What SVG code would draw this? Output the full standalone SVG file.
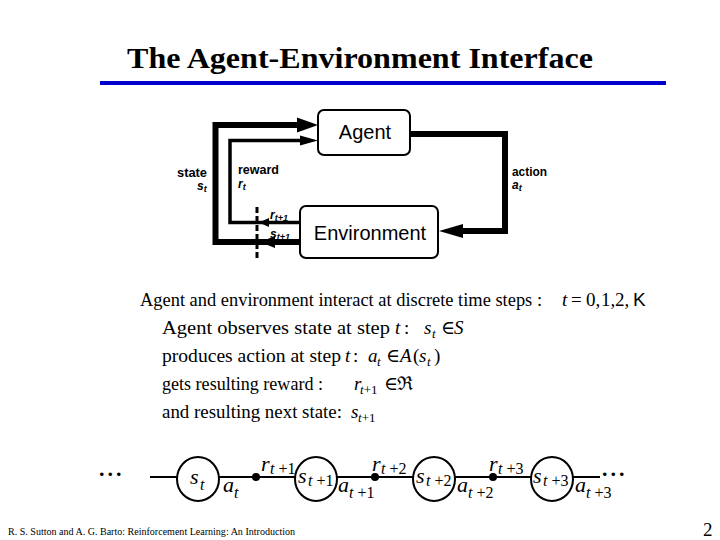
<svg xmlns="http://www.w3.org/2000/svg" width="720" height="540" viewBox="0 0 720 540">
<style>
.title{font-family:"Liberation Serif","Times New Roman",serif;font-weight:bold;font-size:30px;fill:#000}
.body{font-family:"Liberation Serif","DejaVu Serif",serif;font-size:19px;fill:#000}
.it{font-style:italic}
.sub{font-size:13px}
.sans{font-family:"Liberation Sans",Arial,sans-serif}
.box{fill:#fff;stroke:#000;stroke-width:2}
.boxtxt{font-family:"Liberation Sans",Arial,sans-serif;font-size:20px;fill:#000;text-anchor:middle}
.lbl{font-family:"Liberation Sans",Arial,sans-serif;font-weight:bold;font-size:13px;fill:#000}
.lvar{font-family:"Liberation Sans",Arial,sans-serif;font-weight:bold;font-style:italic;font-size:12px;fill:#000}
.lsub{font-size:9px}
.wire{fill:none;stroke:#000;stroke-linejoin:miter;stroke-linecap:butt}
.head{fill:#000;stroke:none}
.chain{font-family:"Liberation Serif","Times New Roman",serif;font-size:22px;fill:#000}
.csub{font-size:16px}
.foot{font-family:"Liberation Serif","Times New Roman",serif;font-size:11px;fill:#000}
.pnum{font-family:"Liberation Serif","Times New Roman",serif;font-size:19px;fill:#000}
</style>
<rect width="720" height="540" fill="#fff"/>
<text class="title" x="360" y="68" text-anchor="middle" textLength="466" lengthAdjust="spacingAndGlyphs">The Agent-Environment Interface</text>
<rect x="100" y="81" width="566" height="4" fill="#0000cc"/>

<g id="connectors">
  <path class="wire" stroke-width="6" d="M300,242 H215.5 V125 H300"/>
  <path class="wire" stroke-width="3.5" d="M300,222.5 H230 V140.5 H302"/>
  <path class="wire" stroke-width="6" d="M410,134 H505 V231 H460"/>
  <polygon class="head" points="318,125 297,117.5 297,132.5"/>
  <polygon class="head" points="318,140.5 300,135.5 300,145.5"/>
  <polygon class="head" points="439,231 463,224 463,238"/>
  <polygon class="head" points="259,222.5 269,218 269,227"/>
  <polygon class="head" points="260,242 275,236 275,248"/>
  <line x1="257" y1="207" x2="257" y2="259" stroke="#000" stroke-width="3" stroke-dasharray="6 3"/>
</g>

<g id="agent">
  <rect class="box" x="318" y="110" width="92" height="45" rx="6"/>
  <text class="boxtxt" x="365" y="139">Agent</text>
</g>
<g id="environment">
  <rect class="box" x="300" y="206" width="138" height="52" rx="6"/>
  <text class="boxtxt" x="370" y="240">Environment</text>
</g>

<g id="labels">
  <text class="lbl" x="177" y="177" textLength="30" lengthAdjust="spacingAndGlyphs">state</text>
  <text class="lvar" x="197" y="190">s<tspan class="lsub" dy="2">t</tspan></text>
  <text class="lbl" x="238" y="174" textLength="41" lengthAdjust="spacingAndGlyphs">reward</text>
  <text class="lvar" x="238" y="188">r<tspan class="lsub" dy="2">t</tspan></text>
  <text class="lbl" x="512" y="176" textLength="35" lengthAdjust="spacingAndGlyphs">action</text>
  <text class="lvar" x="512" y="189">a<tspan class="lsub" dy="2">t</tspan></text>
  <text class="lvar" x="270" y="219">r<tspan class="lsub" dy="2">t+1</tspan></text>
  <text class="lvar" x="270" y="238">s<tspan class="lsub" dy="2">t+1</tspan></text>
</g>

<g id="text-body">
  <text class="body" x="140" y="306" textLength="402" lengthAdjust="spacingAndGlyphs">Agent and environment interact at discrete time steps :</text>
  <text class="body it" x="562" y="306">t</text>
  <text class="body" x="571" y="306">=</text>
  <text class="body" x="586" y="306">0,</text>
  <text class="body" x="601" y="306">1,</text>
  <text class="body" x="615" y="306">2,</text>
  <text class="body sans" x="633" y="306">K</text>

  <text class="body" x="162" y="334" textLength="228" lengthAdjust="spacingAndGlyphs">Agent observes state at step</text>
  <text class="body it" x="395" y="334">t</text>
  <text class="body" x="404" y="334">:</text>
  <text class="body it" x="424" y="334">s</text>
  <text class="body it sub" x="432" y="338">t</text>
  <text class="body" x="441" y="334">∈</text>
  <text class="body it" x="454" y="334">S</text>

  <text class="body" x="162" y="362" textLength="179" lengthAdjust="spacingAndGlyphs">produces action at step</text>
  <text class="body it" x="345" y="362">t</text>
  <text class="body" x="353" y="362">:</text>
  <text class="body it" x="368" y="362">a</text>
  <text class="body it sub" x="377" y="366">t</text>
  <text class="body" x="386" y="362">∈</text>
  <text class="body it" x="400" y="362">A</text>
  <text class="body" x="413" y="362">(</text>
  <text class="body it" x="419" y="362">s</text>
  <text class="body it sub" x="427" y="366">t</text>
  <text class="body" x="434" y="362">)</text>

  <text class="body" x="162" y="390" textLength="161" lengthAdjust="spacingAndGlyphs">gets resulting reward :</text>
  <text class="body it" x="354" y="390">r</text>
  <text class="body sub" x="360" y="394"><tspan class="it">t</tspan>+1</text>
  <text class="body" x="384" y="390">∈</text>
  <text class="body" x="397" y="390">ℜ</text>

  <text class="body" x="162" y="418" textLength="180" lengthAdjust="spacingAndGlyphs">and resulting next state:</text>
  <text class="body it" x="351" y="418">s</text>
  <text class="body sub" x="358" y="422"><tspan class="it">t</tspan>+1</text>
</g>

<g id="chain">
  <line x1="150" y1="477" x2="600" y2="477" stroke="#000" stroke-width="2"/>
  <g id="state-t"><ellipse cx="198" cy="479" rx="21" ry="22" fill="#fff" stroke="#000" stroke-width="2"/></g>
  <g id="state-t1"><ellipse cx="316" cy="479" rx="21" ry="22" fill="#fff" stroke="#000" stroke-width="2"/></g>
  <g id="state-t2"><ellipse cx="434" cy="479" rx="21" ry="22" fill="#fff" stroke="#000" stroke-width="2"/></g>
  <g id="state-t3"><ellipse cx="552" cy="479" rx="21" ry="22" fill="#fff" stroke="#000" stroke-width="2"/></g>
  <circle cx="256" cy="477" r="4" fill="#000"/>
  <circle cx="375" cy="477" r="4" fill="#000"/>
  <circle cx="493" cy="477" r="4" fill="#000"/>

  <text class="chain" x="99" y="476" font-weight="bold" letter-spacing="3">...</text>
  <text class="chain" x="602" y="476" font-weight="bold" letter-spacing="3">...</text>

  <text class="chain it" x="190" y="484">s</text>
  <text class="chain it csub" x="200" y="490">t</text>
  <text class="chain it" x="223" y="492">a</text>
  <text class="chain it csub" x="234" y="498">t</text>

  <text class="chain it" x="261" y="471">r</text>
  <text class="chain csub" x="270" y="474"><tspan class="it">t</tspan> +1</text>
  <text class="chain it" x="298" y="483">s</text>
  <text class="chain csub" x="308" y="486"><tspan class="it">t</tspan> +1</text>
  <text class="chain it" x="338" y="492">a</text>
  <text class="chain csub" x="349" y="498"><tspan class="it">t</tspan> +1</text>

  <text class="chain it" x="372" y="471">r</text>
  <text class="chain csub" x="381" y="474"><tspan class="it">t</tspan> +2</text>
  <text class="chain it" x="416" y="483">s</text>
  <text class="chain csub" x="426" y="486"><tspan class="it">t</tspan> +2</text>
  <text class="chain it" x="457" y="492">a</text>
  <text class="chain csub" x="468" y="498"><tspan class="it">t</tspan> +2</text>

  <text class="chain it" x="489" y="471">r</text>
  <text class="chain csub" x="498" y="474"><tspan class="it">t</tspan> +3</text>
  <text class="chain it" x="533" y="483">s</text>
  <text class="chain csub" x="543" y="486"><tspan class="it">t</tspan> +3</text>
  <text class="chain it" x="575" y="492">a</text>
  <text class="chain csub" x="586" y="498"><tspan class="it">t</tspan> +3</text>
</g>

<text class="foot" x="8" y="535" textLength="287" lengthAdjust="spacingAndGlyphs">R. S. Sutton and A. G. Barto: Reinforcement Learning: An Introduction</text>
<text class="pnum" x="703" y="536">2</text>
</svg>
